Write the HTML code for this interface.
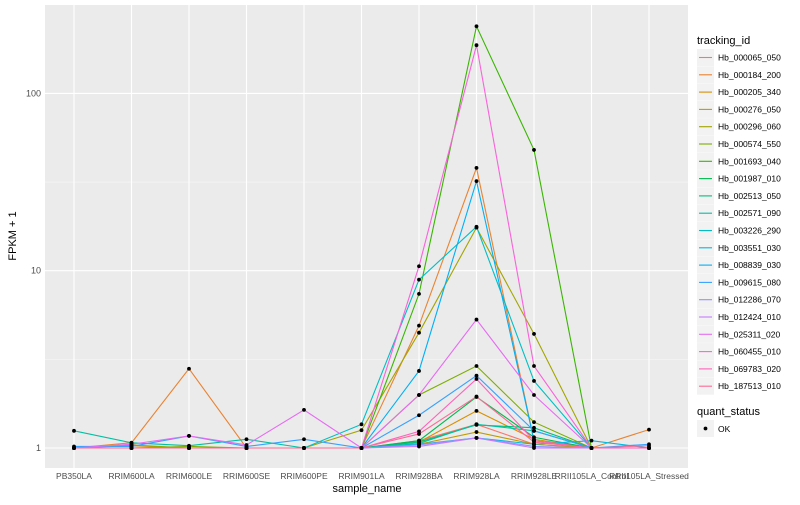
<!DOCTYPE html>
<html><head><meta charset="utf-8"><style>
body{margin:0;background:#fff;font-family:"Liberation Sans",sans-serif}
svg text{font-family:"Liberation Sans",sans-serif}
</style></head><body>
<svg id="chart" width="800" height="500"></svg>
<script>
const categories=["PB350LA","RRIM600LA","RRIM600LE","RRIM600SE","RRIM600PE","RRIM901LA","RRIM928BA","RRIM928LA","RRIM928LE","RRII105LA_Control","RRII105LA_Stressed"];
const seriesNames=["Hb_000065_050","Hb_000184_200","Hb_000205_340","Hb_000276_050","Hb_000296_060","Hb_000574_550","Hb_001693_040","Hb_001987_010","Hb_002513_050","Hb_002571_090","Hb_003226_290","Hb_003551_030","Hb_008839_030","Hb_009615_080","Hb_012286_070","Hb_012424_010","Hb_025311_020","Hb_060455_010","Hb_069783_020","Hb_187513_010"];
const colors=["#F8766D","#EA8331","#D89000","#C09B00","#A3A500","#7CAE00","#39B600","#00BB4E","#00BF7D","#00C1A3","#00BFC4","#00BAE0","#00B0F6","#35A2FF","#9590FF","#C77CFF","#E76BF3","#FA62DB","#FF62BC","#FF6A98"];
const s01=[1,1.07,2.8,1,1,1,4.9,38,1.1,1,1.27];
const s00=[1,1,1,1,1,1,1.1,1.36,1.05,1,1];
const s02=[1,1.03,1,1,1,1,1.08,1.62,1.12,1,1];
const s03=[1,1,1,1,1,1,1.05,1.23,1.05,1,1];
const s04=[1,1.04,1,1,1,1.26,4.47,17.5,4.4,1,1];
const s05=[1,1,1.02,1,1,1,1.99,2.9,1.4,1,1];
const s06=[1,1,1,1,1,1,7.4,239,48,1,1];
const s07=[1,1,1,1,1,1,1.1,1.94,1.15,1,1];
const s08=[1,1,1,1,1,1,1.08,1.35,1.3,1,1];
const s09=[1.25,1.07,1.03,1.12,1,1,1.06,1.36,1.25,1,1];
const s10=[1,1,1,1,1,1.36,8.9,17.7,2.39,1,1];
const s11=[1,1,1,1,1,1,1.05,1.14,1.05,1.1,1];
const s12=[1,1,1,1,1,1,2.72,32,1.1,1,1];
const s13=[1.02,1.02,1.17,1.02,1.12,1,1.53,2.56,1.25,1,1.05];
const s14=[1,1,1,1,1,1,1.04,1.14,1.02,1,1];
const s15=[1,1,1,1,1,1,1.02,1.14,1,1,1];
const s16=[1,1.05,1.17,1.04,1.64,1,1.99,5.3,1.99,1,1];
const s17=[1,1,1,1,1,1,10.6,187,2.9,1,1];
const s18=[1,1,1,1,1,1,1.24,2.45,1.1,1,1];
const s19=[1,1,1,1,1,1,1.2,1.95,1.08,1,1.03];
const seriesValues=[s00,s01,s02,s03,s04,s05,s06,s07,s08,s09,s10,s11,s12,s13,s14,s15,s16,s17,s18,s19];
const yTicks=[1,10,100];
const yMinor=[3.1623,31.623];

const NS="http://www.w3.org/2000/svg";
const svg=document.getElementById('chart');
function mk(tag,attrs,parent){const e=document.createElementNS(NS,tag);for(const k in attrs)e.setAttribute(k,attrs[k]);(parent||svg).appendChild(e);return e;}
const PL=45,PR=688,PT=5,PB=468;
const xs=i=>74+i*57.5;
const ys=v=>448-177.3*Math.log10(v);

const panel=mk('rect',{x:PL,y:PT,width:PR-PL,height:PB-PT,fill:'#EBEBEB'});


yMinor.forEach(v=>{const l=mk('line',{x1:PL,x2:PR,y1:ys(v),y2:ys(v),stroke:'#F7F7F7','stroke-width':0.6});

});
yTicks.forEach(v=>{const l=mk('line',{x1:PL,x2:PR,y1:ys(v),y2:ys(v),stroke:'#fff','stroke-width':1.1});


const t=mk('text',{x:PL-4,y:ys(v)+3,'text-anchor':'end','font-size':9,fill:'#4D4D4D'});t.textContent=v;

});
categories.forEach((c,i)=>{const l=mk('line',{x1:xs(i),x2:xs(i),y1:PT,y2:PB,stroke:'#fff','stroke-width':1.1});


const t=mk('text',{x:xs(i),y:479,'text-anchor':'middle','font-size':8.5,fill:'#4D4D4D'});t.textContent=c;

});
seriesValues.forEach((vals,si)=>{
const p=mk('polyline',{points:vals.map((v,i)=>xs(i)+','+ys(v)).join(' '),fill:'none',stroke:colors[si],'stroke-width':1.1});

});
seriesValues.forEach((vals,si)=>{vals.forEach((v,i)=>{
const c=mk('circle',{cx:xs(i),cy:ys(v),r:1.9,fill:'#000'});

});});
const xt=mk('text',{x:367,y:492,'text-anchor':'middle','font-size':11,fill:'#000'});xt.textContent='sample_name';


const yt=mk('text',{x:0,y:0,transform:'translate(16,236) rotate(-90)','text-anchor':'middle','font-size':11,fill:'#000'});yt.textContent='FPKM + 1';


const lt=mk('text',{x:697,y:44,'font-size':11,fill:'#000'});lt.textContent='tracking_id';


seriesNames.forEach((n,i)=>{const y=49+i*17.3;
const g=mk('g',{});


mk('rect',{x:697,y:y,width:17,height:17,fill:'#F2F2F2'},g);
mk('line',{x1:699,x2:712,y1:y+8.5,y2:y+8.5,stroke:colors[i],'stroke-width':1.1},g);
const t=mk('text',{x:718,y:y+11.5,'font-size':8.5,fill:'#000'},g);t.textContent=n;});
const qt=mk('text',{x:697,y:415,'font-size':11,fill:'#000'});qt.textContent='quant_status';


const qg=mk('g',{});


mk('rect',{x:697,y:420,width:17,height:17,fill:'#F2F2F2'},qg);
mk('circle',{cx:705.5,cy:428.5,r:1.9,fill:'#000'},qg);
const ok=mk('text',{x:718,y:432,'font-size':8.5,fill:'#000'},qg);ok.textContent='OK';
</script>
</body></html>
